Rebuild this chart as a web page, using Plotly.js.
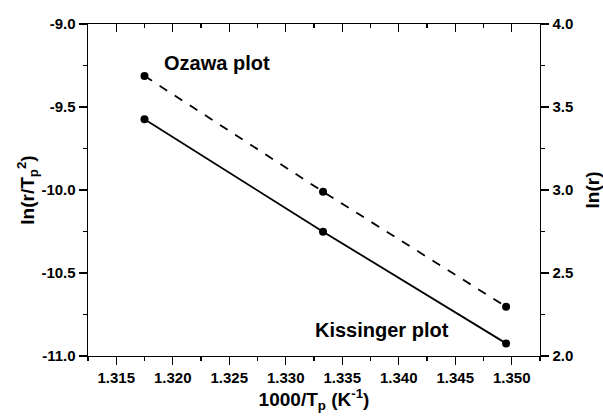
<!DOCTYPE html>
<html><head><meta charset="utf-8">
<script src="https://cdn.plot.ly/plotly-3.0.1.min.js"></script>
<style>html,body{margin:0;padding:0;background:#fff}#c{width:603px;height:419px}</style>
</head><body><div id="c"></div>
<script>
const invT = [1.3175, 1.3333, 1.3495];
const kissinger = [-9.574, -10.251, -10.924];
const ozawa = [3.687, 2.990, 2.297];
const xTickVals = [1.315, 1.320, 1.325, 1.330, 1.335, 1.340, 1.345, 1.350];
const xTickText = ['1.315','1.320','1.325','1.330','1.335','1.340','1.345','1.350'];
const yLeftTicks = [-11.0, -10.5, -10.0, -9.5, -9.0];
const yLeftText = ['-11.0','-10.5','-10.0','-9.5','-9.0'];
const yRightTicks = [2.0, 2.5, 3.0, 3.5, 4.0];
const yRightText = ['2.0','2.5','3.0','3.5','4.0'];

const FAM = 'Liberation Sans, Arial, sans-serif';
const F = {family:FAM, size:15, color:'#000', weight:'bold'};
const TF = {family:FAM, size:19, color:'#000', weight:'bold'};
const AF = {family:FAM, size:20, color:'#000', weight:'bold'};
const LW = 1.4;

const traces = [
  {x: invT, y: kissinger, type:'scatter', mode:'lines+markers', xaxis:'x', yaxis:'y',
   line:{color:'#000', width:1.8}, marker:{color:'#000', size:8}, showlegend:false},
  {x: invT, y: ozawa, type:'scatter', mode:'lines+markers', xaxis:'x', yaxis:'y2',
   line:{color:'#000', width:1.8, dash:'9px,9px'}, marker:{color:'#000', size:8}, showlegend:false},
  {x: [invT[0]], y: [kissinger[0]], type:'scatter', mode:'markers', xaxis:'x2', yaxis:'y',
   marker:{opacity:0}, showlegend:false}
];

const layout = {
  width:603, height:419,
  margin:{l:88, r:63, t:24, b:63},
  paper_bgcolor:'#fff', plot_bgcolor:'#fff',
  showlegend:false,
  xaxis:{range:[1.3125,1.3525], tickmode:'array', tickvals:xTickVals, ticktext:xTickText, tickfont:F,
    ticks:'outside', ticklen:8, tickwidth:LW, tickcolor:'#000',
    minor:{dtick:0.005, tick0:1.3175, ticks:'outside', ticklen:4, tickwidth:LW, tickcolor:'#000'},
    showline:true, linecolor:'#000', linewidth:LW, showgrid:false, zeroline:false,
    title:{text:'1000/T<sub>p</sub> (K<sup>-1</sup>)', font:TF, standoff:7}},
  xaxis2:{range:[1.3125,1.3525], overlaying:'x', side:'top', tickmode:'linear', tick0:1.315, dtick:0.005,
    showticklabels:false, ticks:'inside', ticklen:8, tickwidth:LW, tickcolor:'#000',
    minor:{dtick:0.005, tick0:1.3175, ticks:'inside', ticklen:4, tickwidth:LW, tickcolor:'#000'},
    showline:true, linecolor:'#000', linewidth:LW, showgrid:false, zeroline:false},
  yaxis:{range:[-11,-9], tickmode:'array', tickvals:yLeftTicks, ticktext:yLeftText, tickfont:F,
    ticks:'outside', ticklen:8, tickwidth:LW, tickcolor:'#000',
    minor:{dtick:0.5, tick0:-10.75, ticks:'outside', ticklen:4, tickwidth:LW, tickcolor:'#000'},
    showline:true, linecolor:'#000', linewidth:LW, showgrid:false, zeroline:false,
    title:{text:'ln(r/T<sub>p</sub><sup>2</sup>)', font:TF, standoff:1}},
  yaxis2:{range:[2,4], overlaying:'y', side:'right', tickmode:'array', tickvals:yRightTicks, ticktext:yRightText, tickfont:F,
    ticks:'outside', ticklen:8, tickwidth:LW, tickcolor:'#000',
    minor:{dtick:0.5, tick0:2.25, ticks:'outside', ticklen:4, tickwidth:LW, tickcolor:'#000'},
    showline:true, linecolor:'#000', linewidth:LW, showgrid:false, zeroline:false,
    title:{text:'ln(r)', font:TF, standoff:13}},
  annotations:[
    {text:'Ozawa plot', xref:'paper', yref:'paper', x:0.164, y:0.883, xanchor:'left', yanchor:'middle',
     showarrow:false, font:AF},
    {text:'Kissinger plot', xref:'paper', yref:'paper', x:0.498, y:0.078, xanchor:'left', yanchor:'middle',
     showarrow:false, font:AF}
  ]
};
Plotly.newPlot('c', traces, layout, {staticPlot:true}).then(gd => {
  gd.querySelectorAll('.xtick text, .ytick text, .y2tick text').forEach(t => {
    t.style.fontSize = '15px';
    t.style.fontWeight = 'bold';
    t.style.fontFamily = FAM;
  });
});
</script></body></html>
